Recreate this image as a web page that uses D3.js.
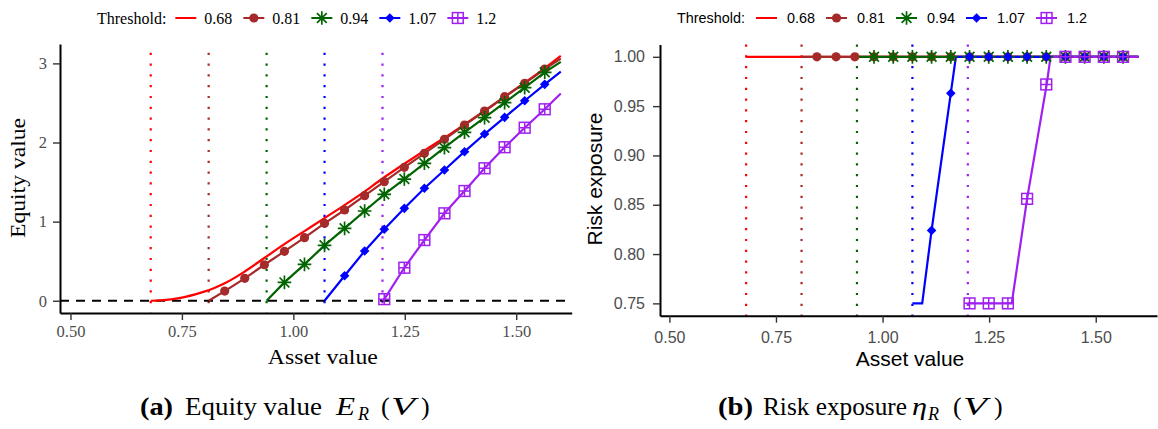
<!DOCTYPE html>
<html><head><meta charset="utf-8">
<script src="https://cdn.jsdelivr.net/npm/d3@7"></script>
<style>body{margin:0;background:#fff}svg{display:block}</style>
</head><body>
<svg id="c" width="1158" height="429"></svg>
<script>
// ---------------- data ----------------
const thresholds = [0.68, 0.81, 0.94, 1.07, 1.2];
const thresholdLabels = ["0.68", "0.81", "0.94", "1.07", "1.2"];
const colors = ["#FF0000", "#A52A2A", "#006400", "#0000FF", "#A020F0"];
const shapes = ["none", "circle", "star", "diamond", "squareplus"];
const xTicks = [0.5, 0.75, 1.0, 1.25, 1.5];
const yTicksEquity = [0, 1, 2, 3];
const yTicksRisk = [0.75, 0.80, 0.85, 0.90, 0.95, 1.00];
const vEnd = 1.6;

// asset values where markers are drawn
const markerV = [0.846, 0.891, 0.935, 0.980, 1.025, 1.070, 1.115, 1.160, 1.204, 1.249, 1.294, 1.339, 1.384, 1.429, 1.474, 1.519, 1.564];

// equity value of the 0.68 threshold (smooth curve, no markers)
const redCurveV = [0.68, 0.70, 0.72, 0.74, 0.76, 0.78, 0.80, 0.82, 0.846, 0.87, 0.891, 0.935, 0.98, 1.025, 1.07, 1.104, 1.15, 1.2, 1.25, 1.3, 1.35, 1.4, 1.45, 1.5, 1.55, 1.6];
const redCurveE = [0, 0.004, 0.014, 0.03, 0.052, 0.08, 0.115, 0.155, 0.22, 0.295, 0.37, 0.54, 0.715, 0.88, 1.045, 1.168, 1.34, 1.545, 1.735, 1.92, 2.10, 2.29, 2.48, 2.68, 2.88, 3.094];

// equity values at markerV (null = below threshold)
const equityBrown = [0.122, 0.283, 0.455, 0.624, 0.797, 0.978, 1.147, 1.328, 1.505, 1.686, 1.863, 2.04, 2.221, 2.398, 2.579, 2.748, 2.929];
const equityGreen = [null, null, null, 0.232, 0.46, 0.70, 0.915, 1.134, 1.345, 1.538, 1.737, 1.934, 2.129, 2.314, 2.503, 2.693, 2.887];
const equityBlue = [null, null, null, null, null, null, 0.316, 0.628, 0.903, 1.168, 1.421, 1.652, 1.884, 2.107, 2.318, 2.528, 2.735];
const equityPurple = [null, null, null, null, null, null, null, null, 0.02, 0.417, 0.767, 1.105, 1.387, 1.674, 1.94, 2.187, 2.42];
const equityEnd = [3.094, 3.06, 3.02, 2.895, 2.62];

// risk exposure at markerV
const riskRed = markerV.map(() => null);
const riskBrown = [1, 1, 1, 1, 1, 1, 1, 1, 1, 1, 1, 1, 1, 1, 1, 1, 1];
const riskGreen = [null, null, null, 1, 1, 1, 1, 1, 1, 1, 1, 1, 1, 1, 1, 1, 1];
const riskBlue = [null, null, null, null, null, null, 0.824, 0.963, 1, 1, 1, 1, 1, 1, 1, 1, 1];
const riskPurple = [null, null, null, null, null, null, null, null, 0.75, 0.75, 0.75, 0.856, 0.972, 1, 1, 1, 1];
// risk exposure line vertices
const riskPathV = [
  [0.68, 1.6],
  [0.81, 1.6],
  [0.94, 1.6],
  [1.07, 1.093, 1.115, 1.160, 1.172, 1.6],
  [1.2, 1.303, 1.339, 1.385, 1.394, 1.6]
];
const riskPathY = [
  [1, 1],
  [1, 1],
  [1, 1],
  [0.75, 0.75, 0.824, 0.963, 1, 1],
  [0.75, 0.75, 0.856, 0.972, 1, 1]
];

// ---------------- drawing ----------------
const svg = d3.select("#c");
svg.append("rect").attr("width", 1158).attr("height", 429).attr("fill", "#fff");
const SERIF = "'Liberation Serif', 'DejaVu Serif', serif";
const SANS = "'Liberation Sans', Arial, sans-serif";

function drawMarker(g, shape, color, x, y) {
  if (shape === "circle") {
    g.append("circle").attr("cx", x).attr("cy", y).attr("r", 4.6).attr("fill", color);
  } else if (shape === "star") {
    const r = 6.8, a = r * 0.72;
    g.append("path").attr("d", `M${x - r},${y}L${x + r},${y}M${x},${y - r}L${x},${y + r}M${x - a},${y - a}L${x + a},${y + a}M${x - a},${y + a}L${x + a},${y - a}`)
      .attr("stroke", color).attr("stroke-width", 1.7).attr("fill", "none");
  } else if (shape === "diamond") {
    const r = 4.8;
    g.append("path").attr("d", `M${x},${y - r}L${x + r},${y}L${x},${y + r}L${x - r},${y}Z`).attr("fill", color);
  } else if (shape === "squareplus") {
    const s = 5.4;
    g.append("rect").attr("x", x - s).attr("y", y - s).attr("width", 2 * s).attr("height", 2 * s)
      .attr("fill", "none").attr("stroke", color).attr("stroke-width", 1.5);
    g.append("path").attr("d", `M${x - s},${y}L${x + s},${y}M${x},${y - s}L${x},${y + s}`)
      .attr("stroke", color).attr("stroke-width", 1.5);
  }
}

function styleAxis(g, font, size) {
  g.select(".domain").attr("stroke", "#000").attr("stroke-width", 2);
  g.selectAll(".tick line").attr("stroke", "#333").attr("stroke-width", 1.4);
  g.selectAll(".tick text").attr("fill", "#4d4d4d").style("font-family", font).style("font-size", size + "px");
}

function legend(x0, font, size, keyGap, labelGap, afterGap) {
  const g = svg.append("g");
  const cy = 18;
  let x = x0;
  const t = g.append("text").attr("x", x).attr("y", cy).attr("dy", "0.35em").text("Threshold:")
    .style("font-family", font).style("font-size", size + "px").attr("fill", "#000");
  x += t.node().getComputedTextLength() + keyGap;
  thresholds.forEach((th, i) => {
    g.append("line").attr("x1", x).attr("x2", x + 21).attr("y1", cy).attr("y2", cy)
      .attr("stroke", colors[i]).attr("stroke-width", 2);
    drawMarker(g, shapes[i], colors[i], x + 10.5, cy);
    x += 21 + labelGap;
    const l = g.append("text").attr("x", x).attr("y", cy).attr("dy", "0.35em").text(thresholdLabels[i])
      .style("font-family", font).style("font-size", size + "px").attr("fill", "#000");
    x += l.node().getComputedTextLength() + afterGap;
  });
}

// ---------- Panel (a): Equity value ----------
const xL = d3.scaleLinear().domain([0.4765, 1.6245]).range([60, 571.7]);
const yL = d3.scaleLinear().domain([-0.155, 3.245]).range([313, 44]);
const pa = svg.append("g");

thresholds.forEach((th, i) => {
  pa.append("line").attr("x1", xL(th)).attr("x2", xL(th)).attr("y1", yL(3.135)).attr("y2", yL(-0.145))
    .attr("stroke", colors[i]).attr("stroke-width", 2.2).attr("stroke-dasharray", "2.2,8.6");
});
pa.append("line").attr("x1", xL.range()[0]).attr("x2", xL.range()[1]).attr("y1", yL(0)).attr("y2", yL(0))
  .attr("stroke", "#000").attr("stroke-width", 2.2).attr("stroke-dasharray", "9,7");

const lineCurve = d3.line().x(d => xL(d[0])).y(d => yL(d[1])).curve(d3.curveMonotoneX);
pa.append("path").datum(redCurveV.map((v, i) => [v, redCurveE[i]]))
  .attr("d", lineCurve).attr("fill", "none").attr("stroke", colors[0]).attr("stroke-width", 2.2);
const lineLin = d3.line().x(d => xL(d[0])).y(d => yL(d[1]));
const equitySeries = [null, equityBrown, equityGreen, equityBlue, equityPurple];
equitySeries.forEach((arr, i) => {
  if (!arr) return;
  const pts = [[thresholds[i], 0]];
  arr.forEach((e, k) => { if (e !== null) pts.push([markerV[k], e]); });
  pts.push([vEnd, equityEnd[i]]);
  pa.append("path").datum(pts).attr("d", lineLin).attr("fill", "none").attr("stroke", colors[i]).attr("stroke-width", 2.2);
});
equitySeries.forEach((arr, i) => {
  if (!arr) return;
  arr.forEach((e, k) => { if (e !== null) drawMarker(pa, shapes[i], colors[i], xL(markerV[k]), yL(e)); });
});

const axLx = pa.append("g").attr("transform", `translate(0,313)`)
  .call(d3.axisBottom(xL).tickValues(xTicks).tickFormat(d3.format(".2f")).tickSize(7).tickSizeOuter(0).tickPadding(5));
styleAxis(axLx, SERIF, 16.5);
const axLy = pa.append("g").attr("transform", `translate(60,0)`)
  .call(d3.axisLeft(yL).tickValues(yTicksEquity).tickFormat(d3.format("d")).tickSize(7).tickSizeOuter(0).tickPadding(6));
styleAxis(axLy, SERIF, 16.5);

pa.append("text").attr("x", (xL.range()[0] + xL.range()[1]) / 2 + 7).attr("y", 364).attr("text-anchor", "middle")
  .attr("textLength", 110).attr("lengthAdjust", "spacingAndGlyphs")
  .style("font-family", SERIF).style("font-size", "21px").text("Asset value");
pa.append("text").attr("transform", "translate(25,178) rotate(-90)").attr("text-anchor", "middle")
  .attr("textLength", 120).attr("lengthAdjust", "spacingAndGlyphs")
  .style("font-family", SERIF).style("font-size", "21px").text("Equity value");

legend(97, SERIF, 16, 9, 8, 11);

// ---------- Panel (b): Risk exposure ----------
const xR = d3.scaleLinear().domain([0.478, 1.6437]).range([660, 1157]);
const yR = d3.scaleLinear().domain([0.7375, 1.0125]).range([315.7, 44.5]);
const pb = svg.append("g");

thresholds.forEach((th, i) => {
  pb.append("line").attr("x1", xR(th)).attr("x2", xR(th)).attr("y1", yR(1.0125)).attr("y2", yR(0.7375))
    .attr("stroke", colors[i]).attr("stroke-width", 2.2).attr("stroke-dasharray", "2.2,8.6");
});
const lineR = d3.line().x(d => xR(d[0])).y(d => yR(d[1]));
riskPathV.forEach((vs, i) => {
  pb.append("path").datum(vs.map((v, k) => [v, riskPathY[i][k]])).attr("d", lineR)
    .attr("fill", "none").attr("stroke", colors[i]).attr("stroke-width", 2.2);
});
const riskSeries = [riskRed, riskBrown, riskGreen, riskBlue, riskPurple];
riskSeries.forEach((arr, i) => {
  arr.forEach((r, k) => { if (r !== null) drawMarker(pb, shapes[i], colors[i], xR(markerV[k]), yR(r)); });
});

const axRx = pb.append("g").attr("transform", `translate(0,315.7)`)
  .call(d3.axisBottom(xR).tickValues(xTicks).tickFormat(d3.format(".2f")).tickSize(7).tickSizeOuter(0).tickPadding(9));
styleAxis(axRx, SANS, 16);
const axRy = pb.append("g").attr("transform", `translate(660,0)`)
  .call(d3.axisLeft(yR).tickValues(yTicksRisk).tickFormat(d3.format(".2f")).tickSize(7).tickSizeOuter(0).tickPadding(8));
styleAxis(axRy, SANS, 16);

pb.append("text").attr("x", 910).attr("y", 366).attr("text-anchor", "middle")
  .style("font-family", SANS).style("font-size", "21px").text("Asset value");
pb.append("text").attr("transform", "translate(602,179) rotate(-90)").attr("text-anchor", "middle")
  .style("font-family", SANS).style("font-size", "21px").text("Risk exposure");

legend(677, SANS, 14.4, 11, 10, 11);

// ---------- captions ----------
function capPiece(x, y, txt, opts) {
  const t = svg.append("text").attr("x", x).attr("y", y).text(txt)
    .style("font-family", SERIF).style("font-size", (opts.size || 25) + "px").attr("fill", "#000");
  if (opts.bold) t.style("font-weight", "bold");
  if (opts.italic) t.style("font-style", "italic");
  if (opts.len) t.attr("textLength", opts.len).attr("lengthAdjust", "spacingAndGlyphs");
  return t;
}
const cb = 415;
capPiece(140, cb, "(a)", { bold: true, len: 33 });
capPiece(185, cb, "Equity value", { len: 137 });
capPiece(336, cb, "E", { italic: true, size: 26, len: 19 });
capPiece(358, cb + 5, "R", { italic: true, size: 18 });
capPiece(381, cb, "(", { size: 26 });
capPiece(391, cb, "V", { italic: true, size: 26, len: 24 });
capPiece(421, cb, ")", { size: 26 });

capPiece(718, cb, "(b)", { bold: true, len: 35 });
capPiece(763, cb, "Risk exposure", { len: 144 });
capPiece(912, cb, "η", { italic: true, size: 25, len: 15 });
capPiece(928, cb + 5, "R", { italic: true, size: 18 });
capPiece(953, cb, "(", { size: 26 });
capPiece(963, cb, "V", { italic: true, size: 26, len: 24 });
capPiece(994, cb, ")", { size: 26 });
</script>
</body></html>
